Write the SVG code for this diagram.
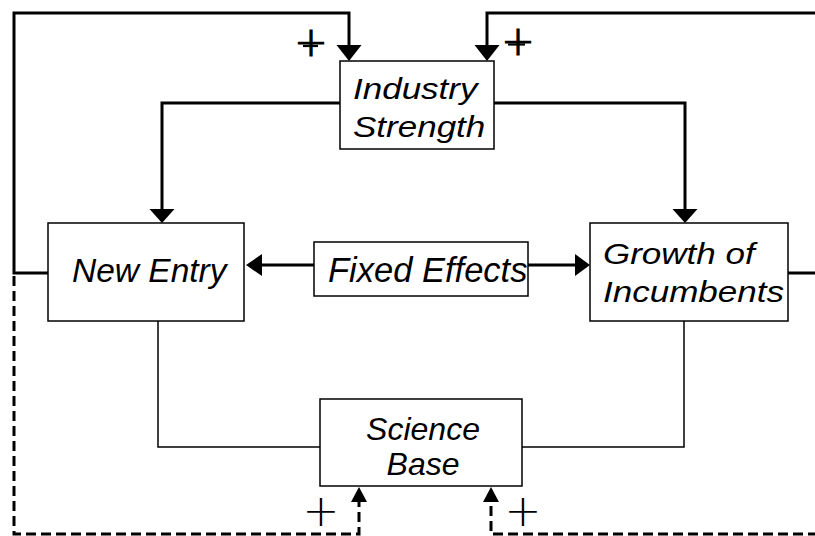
<svg xmlns="http://www.w3.org/2000/svg" width="815" height="536" viewBox="0 0 815 536">
<style>
.box{fill:#fff;stroke:#000;stroke-width:1.5}
.lbl{font-family:"Liberation Sans",Arial,sans-serif;font-style:italic;fill:#000}
.thick{fill:none;stroke:#000;stroke-width:3}
.thin{fill:none;stroke:#000;stroke-width:1.5}
.dash{fill:none;stroke:#000;stroke-width:3;stroke-dasharray:10 5}
.sign{font-family:"DejaVu Sans",sans-serif;font-weight:200;fill:#000;text-anchor:middle}
.bold{stroke:#000;stroke-width:1.2}
</style>
<rect width="815" height="536" fill="#fff"/>
<g id="connectors">
  <path class="thick" d="M48 273 H14 V13 H349 V46"/>
  <polygon points="336.5,45 361.5,45 349,61"/>
  <path class="thick" d="M788 273 H818 V13 H487 V46"/>
  <polygon points="474.5,45 499.5,45 487,61"/>
  <path class="thick" d="M340 103 H162 V210"/>
  <polygon points="149.5,209 174.5,209 162,223"/>
  <path class="thick" d="M494 103 H685 V210"/>
  <polygon points="672.5,209 697.5,209 685,223"/>
  <path class="thick" d="M314 265 H260"/>
  <polygon points="262,254 262,276 246,265"/>
  <path class="thick" d="M528 265 H577"/>
  <polygon points="575,254 575,276 590,265"/>
  <path class="thin" d="M158 321 V447 H320"/>
  <path class="thin" d="M684 321 V447 H522"/>
  <path class="dash" d="M14 276 V534 H359 V502"/>
  <polygon points="351,502 367,502 359,487"/>
  <path class="dash" d="M818 534 H491 V502"/>
  <polygon points="483,502 499,502 491,487"/>
  <text class="sign bold" x="311" y="56" font-size="40">+</text>
  <line x1="303" y1="46" x2="318" y2="46" stroke="#000" stroke-width="2.2"/>
  <text class="sign bold" x="518" y="55" font-size="40">+</text>
  <line x1="508" y1="44.5" x2="525" y2="44.5" stroke="#000" stroke-width="2.2"/>
  <text class="sign" x="321" y="526" font-size="44">+</text>
  <text class="sign" x="523" y="526" font-size="44">+</text>
</g>
<g id="industry-strength">
  <rect class="box" x="340" y="61" width="154" height="88"/>
  <text class="lbl" font-size="35" transform="translate(353,99) scale(1,0.84)"><tspan x="0" y="0">Industry</tspan><tspan x="0" y="45">Strength</tspan></text>
</g>
<g id="new-entry">
  <rect class="box" x="48" y="223" width="196" height="98"/>
  <text class="lbl" x="72" y="282" font-size="33.5">New Entry</text>
</g>
<g id="fixed-effects">
  <rect class="box" x="314" y="242" width="214" height="54"/>
  <text class="lbl" x="328" y="282" font-size="34.5">Fixed Effects</text>
</g>
<g id="growth-of-incumbents">
  <rect class="box" x="590" y="223" width="198" height="98"/>
  <text class="lbl" font-size="35" transform="translate(603,264) scale(1,0.84)"><tspan x="0" y="0">Growth of</tspan><tspan x="0" y="45.5">Incumbents</tspan></text>
</g>
<g id="science-base">
  <rect class="box" x="320" y="399" width="202" height="87"/>
  <text class="lbl" x="423" y="440" font-size="32" text-anchor="middle">Science</text>
  <text class="lbl" x="423" y="475" font-size="32" text-anchor="middle">Base</text>
</g>
</svg>
